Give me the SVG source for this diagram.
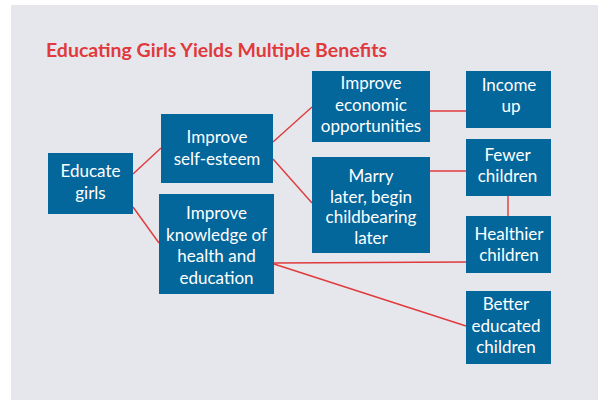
<svg xmlns="http://www.w3.org/2000/svg" width="598" height="400" viewBox="0 0 598 400">
<style>
.box{fill:#03679c}
.t{font-family:Lato,"Liberation Sans",sans-serif;font-size:17px;fill:#ffffff;text-anchor:middle}
.title{font-family:Lato,"Liberation Sans",sans-serif;font-size:18.5px;font-weight:bold;fill:#e03a3c}
.c line{stroke:#e03a3c;stroke-width:1.4}
</style>
<rect x="11" y="5" width="587" height="395" fill="#e6e7ec"/>
<text class="title" x="46" y="56.5" textLength="341" lengthAdjust="spacingAndGlyphs">Educating Girls Yields Multiple Benefits</text>
<g class="c" id="connectors">
<line x1="133" y1="174" x2="161" y2="148"/>
<line x1="133" y1="207" x2="159" y2="243"/>
<line x1="273" y1="142" x2="312" y2="107"/>
<line x1="273" y1="159" x2="312" y2="203"/>
<line x1="430" y1="111" x2="466" y2="111"/>
<line x1="430" y1="171" x2="466" y2="171"/>
<line x1="508" y1="196" x2="508" y2="216"/>
<line x1="274" y1="263" x2="466" y2="262"/>
<line x1="274" y1="264" x2="466" y2="326"/>
</g>
<g id="educate">
<rect class="box" x="48" y="153" width="85" height="61"/>
<text class="t" x="90.5" y="177">Educate</text>
<text class="t" x="90.5" y="199">girls</text>
</g>
<g id="selfesteem">
<rect class="box" x="161" y="114" width="112" height="69"/>
<text class="t" x="217" y="143">Improve</text>
<text class="t" x="217" y="165">self-esteem</text>
</g>
<g id="knowledge">
<rect class="box" x="159" y="194" width="115" height="100"/>
<text class="t" x="216.5" y="219">Improve</text>
<text class="t" x="216.5" y="240.5">knowledge of</text>
<text class="t" x="216.5" y="262">health and</text>
<text class="t" x="216.5" y="283.5">education</text>
</g>
<g id="economic">
<rect class="box" x="312" y="71" width="118" height="71"/>
<text class="t" x="371" y="89">Improve</text>
<text class="t" x="371" y="110.5">economic</text>
<text class="t" x="371" y="132">opportunities</text>
</g>
<g id="marry">
<rect class="box" x="312" y="157" width="118" height="96"/>
<text class="t" x="371" y="182">Marry</text>
<text class="t" x="371" y="202.5">later, begin</text>
<text class="t" x="371" y="223">childbearing</text>
<text class="t" x="371" y="244">later</text>
</g>
<g id="income">
<rect class="box" x="466" y="71" width="85" height="57"/>
<text class="t" x="509" y="91">Income</text>
<text class="t" x="511" y="112">up</text>
</g>
<g id="fewer">
<rect class="box" x="466" y="139" width="85" height="57"/>
<text class="t" x="507.5" y="161">Fewer</text>
<text class="t" x="507.5" y="182">children</text>
</g>
<g id="healthier">
<rect class="box" x="466" y="216" width="85" height="57"/>
<text class="t" x="509" y="240">Healthier</text>
<text class="t" x="509" y="261">children</text>
</g>
<g id="better">
<rect class="box" x="466" y="291" width="85" height="73"/>
<text class="t" x="506" y="310">Better</text>
<text class="t" x="506" y="332">educated</text>
<text class="t" x="506" y="353">children</text>
</g>
</svg>
